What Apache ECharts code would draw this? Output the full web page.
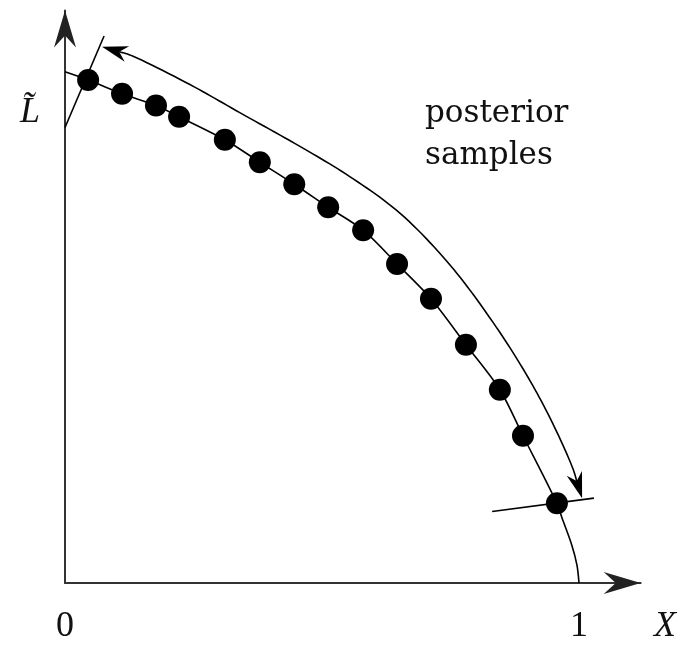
<!DOCTYPE html>
<html>
<head>
<meta charset="utf-8">
<script src="https://cdn.jsdelivr.net/npm/echarts@6/dist/echarts.min.js"></script>
<style>
  html, body { margin: 0; padding: 0; background: #fff; }
  #chart { width: 681px; height: 645px; }
</style>
</head>
<body>
<div id="chart"></div>
<script>
// Posterior samples lying on the curve L~(X)
const sampleX = [0.045, 0.111, 0.177, 0.222, 0.311, 0.379, 0.446, 0.512, 0.580, 0.646, 0.712, 0.780, 0.846, 0.891, 0.957];
const sampleL = [0.984, 0.957, 0.934, 0.912, 0.867, 0.823, 0.780, 0.735, 0.690, 0.624, 0.556, 0.466, 0.378, 0.288, 0.156];

// The curve L~(X) from (0, 1) down to (1, 0)
const curveX = [0, 0.045, 0.111, 0.177, 0.222, 0.311, 0.379, 0.446, 0.512, 0.580, 0.646, 0.712, 0.780, 0.846, 0.891, 0.957, 0.967, 0.986, 0.996, 1.0];
const curveL = [1.0, 0.984, 0.957, 0.934, 0.912, 0.867, 0.823, 0.780, 0.735, 0.690, 0.624, 0.556, 0.466, 0.378, 0.288, 0.156, 0.127, 0.074, 0.035, 0];

// Double-headed arc spanning the samples
const arcX = [0.072, 0.126, 0.243, 0.340, 0.457, 0.554, 0.652, 0.749, 0.827, 0.891, 0.944, 0.988, 1.006];
const arcL = [1.049, 1.033, 0.975, 0.920, 0.854, 0.795, 0.723, 0.622, 0.518, 0.419, 0.322, 0.224, 0.166];

// Short bars marking the first and last sample
const barTopX = [0, 0.076];
const barTopL = [0.891, 1.070];
const barBottomX = [0.831, 1.029];
const barBottomL = [0.140, 0.166];

// Axis extent and tick labels
const axisMax = 1.12;
const tickValues = [0, 1];
const tickLabels = ['0', '1'];

const zip = (xs, ys) => xs.map((x, i) => [x, ys[i]]);

// Centripetal Catmull-Rom through pixel points, for a smooth path
function catmullRom(pts, steps) {
  const out = [pts[0]];
  const ext = (a, b) => [2 * a[0] - b[0], 2 * a[1] - b[1]];
  const tj = (ti, a, b) => ti + Math.sqrt(Math.hypot(b[0] - a[0], b[1] - a[1]));
  for (let i = 0; i < pts.length - 1; i++) {
    const p1 = pts[i], p2 = pts[i + 1];
    const p0 = i > 0 ? pts[i - 1] : ext(p1, p2);
    const p3 = i + 2 < pts.length ? pts[i + 2] : ext(p2, p1);
    const t0 = 0, t1 = tj(t0, p0, p1), t2 = tj(t1, p1, p2), t3 = tj(t2, p2, p3);
    for (let s = 1; s <= steps; s++) {
      const t = t1 + (t2 - t1) * s / steps;
      const lerp = (a, b, ta, tb) => [
        (tb - t) / (tb - ta) * a[0] + (t - ta) / (tb - ta) * b[0],
        (tb - t) / (tb - ta) * a[1] + (t - ta) / (tb - ta) * b[1]
      ];
      const a1 = lerp(p0, p1, t0, t1), a2 = lerp(p1, p2, t1, t2), a3 = lerp(p2, p3, t2, t3);
      const b1 = lerp(a1, a2, t0, t2), b2 = lerp(a2, a3, t1, t3);
      out.push(lerp(b1, b2, t1, t2));
    }
  }
  return out;
}

// Filled arrowhead with a notched back, tip at p, pointing along (p - q)
function arrowHead(p, q, len, half, notch) {
  const dx = p[0] - q[0], dy = p[1] - q[1];
  const d = Math.hypot(dx, dy) || 1;
  const ux = dx / d, uy = dy / d;
  const nx = -uy, ny = ux;
  const bx = p[0] - ux * len, by = p[1] - uy * len;
  return {
    points: [
      p,
      [bx + nx * half, by + ny * half],
      [p[0] - ux * (len - notch), p[1] - uy * (len - notch)],
      [bx - nx * half, by - ny * half]
    ],
    inner: [p[0] - ux * (len - notch), p[1] - uy * (len - notch)]
  };
}

const chart = echarts.init(document.getElementById('chart'), null, { renderer: 'canvas' });

const lineStyle = { color: '#000', width: 1.6 };

chart.setOption({
  animation: false,
  backgroundColor: '#fff',
  grid: { left: 65, right: 40.3, top: 10.4, bottom: 60, containLabel: false },
  xAxis: {
    type: 'value', min: 0, max: axisMax, interval: 1,
    axisLine: { show: true, onZero: false, lineStyle: { color: '#333', width: 2 } },
    axisTick: { show: false },
    splitLine: { show: false },
    axisLabel: {
      show: true, margin: 26, showMaxLabel: false,
      fontFamily: 'Liberation Serif', fontSize: 36, color: '#111',
      formatter: v => { const i = tickValues.indexOf(v); return i >= 0 ? tickLabels[i] : ''; }
    }
  },
  yAxis: {
    type: 'value', min: 0, max: axisMax, interval: 1,
    axisLine: { show: true, onZero: false, lineStyle: { color: '#333', width: 2 } },
    axisTick: { show: false },
    splitLine: { show: false },
    axisLabel: { show: false }
  },
  series: [
    {
      type: 'line', data: zip(curveX, curveL), smooth: 0.3,
      showSymbol: false, lineStyle: lineStyle, z: 2
    },
    {
      type: 'line', data: zip(barTopX, barTopL),
      showSymbol: false, lineStyle: lineStyle, z: 2
    },
    {
      type: 'line', data: zip(barBottomX, barBottomL),
      showSymbol: false, lineStyle: lineStyle, z: 2
    },
    {
      type: 'scatter', data: zip(sampleX, sampleL),
      symbol: 'circle', symbolSize: 22,
      itemStyle: { color: '#000', opacity: 1 }, z: 3
    },
    {
      // arc with arrowheads at both ends, plus the axis arrowheads
      type: 'custom', data: [[0, 0]], z: 4, clip: false,
      renderItem: (params, api) => {
        const pts = zip(arcX, arcL).map(p => api.coord(p));
        const n = pts.length;
        const headA = arrowHead(pts[0], pts[1], 26, 8, 8);
        const headB = arrowHead(pts[n - 1], pts[n - 2], 26, 8, 8);
        const body = pts.slice();
        body[0] = headA.inner;
        body[n - 1] = headB.inner;
        const origin = api.coord([0, 0]);
        const xEnd = api.coord([axisMax, 0]);
        const yEnd = api.coord([0, axisMax]);
        const headX = arrowHead(xEnd, origin, 37, 11, 12);
        const headY = arrowHead(yEnd, origin, 37, 11, 12);
        const fill = { fill: '#000', stroke: null };
        return {
          type: 'group',
          children: [
            { type: 'polyline', shape: { points: catmullRom(body, 12) },
              style: { stroke: '#000', lineWidth: 1.6, fill: null } },
            { type: 'polygon', shape: { points: headA.points }, style: fill },
            { type: 'polygon', shape: { points: headB.points }, style: fill },
            { type: 'polygon', shape: { points: headX.points }, style: { fill: '#222' } },
            { type: 'polygon', shape: { points: headY.points }, style: { fill: '#222' } }
          ]
        };
      }
    }
  ],
  graphic: [
    {
      type: 'text', left: 425, top: 93, z: 10,
      style: {
        text: 'posterior\nsamples', fontFamily: 'DejaVu Serif', fontSize: 31,
        lineHeight: 42, fill: '#111'
      }
    },
    {
      type: 'text', x: 665, y: 627, z: 10,
      style: {
        text: 'X', fontFamily: 'Liberation Serif', fontStyle: 'italic', fontSize: 36,
        fill: '#111', align: 'center', verticalAlign: 'middle'
      }
    },
    {
      type: 'text', x: 30, y: 113, z: 10,
      style: {
        text: 'L\u0303', fontFamily: 'Liberation Serif', fontStyle: 'italic', fontSize: 36,
        fill: '#111', align: 'center', verticalAlign: 'middle'
      }
    }
  ]
});
</script>
</body>
</html>
